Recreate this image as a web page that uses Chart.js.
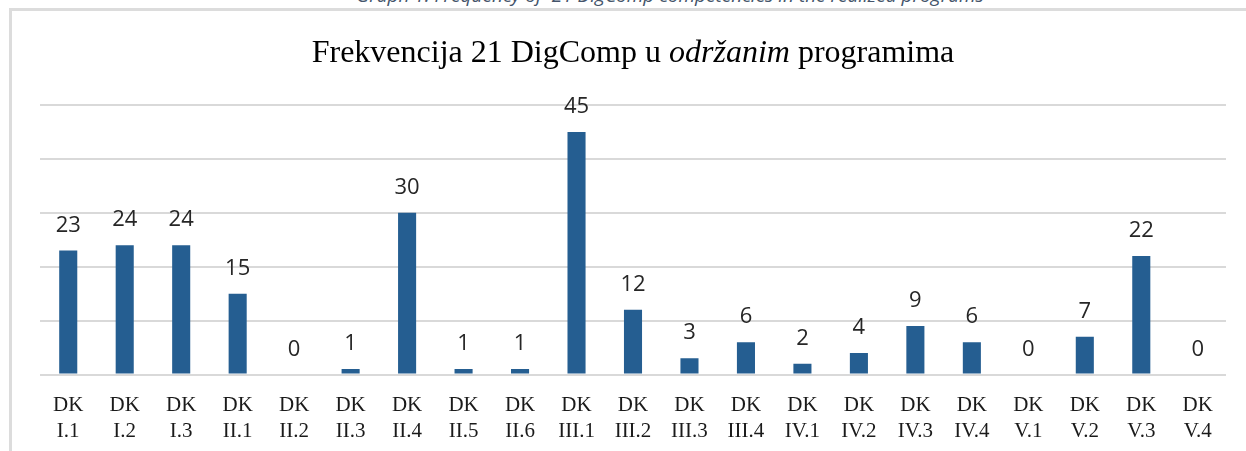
<!DOCTYPE html>
<html>
<head>
<meta charset="utf-8">
<script src="https://cdn.jsdelivr.net/npm/chart.js@4.4.1/dist/chart.umd.min.js"></script>
<style>
  html, body { margin: 0; padding: 0; background: #fff; overflow: hidden; }
  #wrap { position: relative; width: 1246px; height: 451px; overflow: hidden; }
  #caption {
    position: absolute; left: 0; top: -15px; width: 1340px; text-align: center;
    font: italic 19px/20px "Open Sans", sans-serif; color: #44546a; white-space: nowrap;
  }
  #box {
    position: absolute; left: 9px; top: 8px; right: -10px; bottom: -10px;
    border-left: 3px solid #dcdcdc; border-top: 3px solid #dcdcdc;
  }
  canvas { position: absolute; left: 0; top: 0; }
</style>
</head>
<body>
<div id="wrap">
  <div id="caption">Graph 1. Frequency of&nbsp; 21 DigComp competencies in the realized programs</div>
  <div id="box"></div>
  <canvas id="my-chart" width="1246" height="464"></canvas>
</div>
<script>
const categories = [
  ['DK', 'I.1'], ['DK', 'I.2'], ['DK', 'I.3'], ['DK', 'II.1'], ['DK', 'II.2'], ['DK', 'II.3'],
  ['DK', 'II.4'], ['DK', 'II.5'], ['DK', 'II.6'], ['DK', 'III.1'], ['DK', 'III.2'], ['DK', 'III.3'],
  ['DK', 'III.4'], ['DK', 'IV.1'], ['DK', 'IV.2'], ['DK', 'IV.3'], ['DK', 'IV.4'], ['DK', 'V.1'],
  ['DK', 'V.2'], ['DK', 'V.3'], ['DK', 'V.4']
];
const frequencies = [23, 24, 24, 15, 0, 1, 30, 1, 1, 45, 12, 3, 6, 2, 4, 9, 6, 0, 7, 22, 0];
const titleParts = [
  { text: 'Frekvencija 21 DigComp u ', italic: false },
  { text: 'održanim', italic: true },
  { text: ' programima', italic: false }
];

// title with one italic word
const titlePlugin = {
  id: 'mixedTitle',
  afterDraw(chart) {
    const ctx = chart.ctx;
    const area = chart.chartArea;
    const fontFor = p => (p.italic ? 'italic ' : '') + '32px "Liberation Serif", "Times New Roman", serif';
    ctx.save();
    let total = 0;
    titleParts.forEach(p => { ctx.font = fontFor(p); total += ctx.measureText(p.text).width; });
    let x = (area.left + area.right) / 2 - total / 2;
    ctx.fillStyle = '#000';
    ctx.textBaseline = 'alphabetic';
    titleParts.forEach(p => {
      ctx.font = fontFor(p);
      ctx.fillText(p.text, x, 62);
      x += ctx.measureText(p.text).width;
    });
    ctx.restore();
  }
};

// value labels above the bars
const valuePlugin = {
  id: 'barValues',
  afterDatasetsDraw(chart) {
    const ctx = chart.ctx;
    const meta = chart.getDatasetMeta(0);
    ctx.save();
    ctx.font = '22px "Open Sans", sans-serif';
    ctx.fillStyle = '#262626';
    ctx.textAlign = 'center';
    ctx.textBaseline = 'alphabetic';
    meta.data.forEach((bar, i) => {
      ctx.fillText(String(frequencies[i]), bar.x, bar.y - 19);
    });
    ctx.restore();
  }
};

const ctx = document.getElementById('my-chart').getContext('2d');
const chart = new Chart(ctx, {
  type: 'bar',
  data: {
    labels: categories,
    datasets: [{
      data: frequencies,
      backgroundColor: '#255e91',
      barPercentage: 0.32,
      categoryPercentage: 1
    }]
  },
  options: {
    responsive: false,
    animation: false,
    layout: { padding: { left: 40, right: 20, top: 105, bottom: 9 } },
    plugins: { legend: { display: false }, tooltip: { enabled: false }, title: { display: false } },
    scales: {
      x: {
        grid: { display: false },
        border: { display: false },
        ticks: {
          color: '#1a1a1a',
          font: { family: '"Liberation Serif", "Times New Roman", serif', size: 21, lineHeight: 1.25 },
          padding: 10,
          maxRotation: 0,
          autoSkip: false
        }
      },
      y: {
        min: 0,
        max: 50,
        ticks: { display: false, stepSize: 10 },
        grid: { color: '#d9d9d9', lineWidth: 2, drawTicks: false },
        border: { display: false }
      }
    }
  },
  plugins: [titlePlugin, valuePlugin]
});
</script>
</body>
</html>
